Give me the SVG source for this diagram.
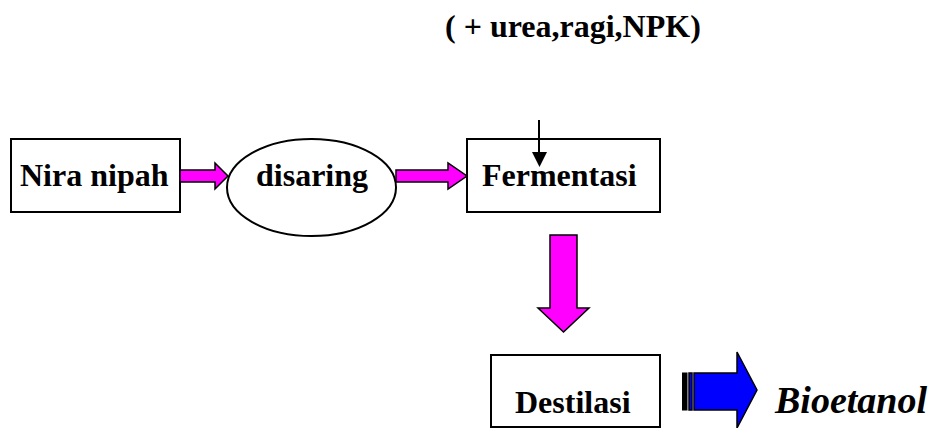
<svg xmlns="http://www.w3.org/2000/svg" width="928" height="428" viewBox="0 0 928 428">
<style>
.box{fill:#fff;stroke:#000;stroke-width:2}
.lbl{font-family:"Liberation Serif","Times New Roman",serif;font-weight:bold;font-size:32px;fill:#000}
.pink{fill:#ff00ff;stroke:#000;stroke-width:1.5;stroke-linejoin:miter}
.blue{fill:#0000ff;stroke:#000;stroke-width:1.5}
</style>
<rect width="928" height="428" fill="#fff"/>
<text id="additive" class="lbl" x="445" y="37">( + urea,ragi,NPK)</text>
<g id="nira-nipah">
<rect class="box" x="11" y="139" width="169" height="73"/>
<text class="lbl" x="20" y="186">Nira nipah</text>
</g>
<g id="disaring">
<ellipse class="box" cx="311.5" cy="187.5" rx="84.5" ry="48.5"/>
<text class="lbl" x="312" y="186" text-anchor="middle">disaring</text>
</g>
<g id="fermentasi">
<rect class="box" x="467" y="139" width="193" height="73"/>
<text class="lbl" x="482" y="186">Fermentasi</text>
</g>
<g id="destilasi">
<rect class="box" x="491" y="355" width="169" height="72"/>
<text class="lbl" x="515" y="413">Destilasi</text>
</g>
<g id="bioetanol">
<text x="775" y="413" style="font-family:'Liberation Serif','Times New Roman',serif;font-weight:bold;font-style:italic;font-size:38px;fill:#000">Bioetanol</text>
</g>
<g id="connectors">
<polygon class="pink" points="180,170 215,170 215,163 228,176 215,189 215,182 180,182"/>
<polygon class="pink" points="396,170 448,170 448,163 467,176 448,189 448,182 396,182"/>
<polygon class="pink" points="550,235 577,235 577,308 589,308 563.5,332 538,308 550,308"/>
<line x1="539" y1="120" x2="539" y2="153" stroke="#000" stroke-width="2"/>
<polygon points="532,152 547,152 539.5,167" fill="#000"/>
<rect x="682" y="372.5" width="5.5" height="38" fill="#000"/>
<rect class="blue" x="689" y="373" width="3" height="37"/>
<polygon class="blue" points="694,373 737,373 737,352 757,390 737,428 737,410 694,410"/>
</g>
</svg>
